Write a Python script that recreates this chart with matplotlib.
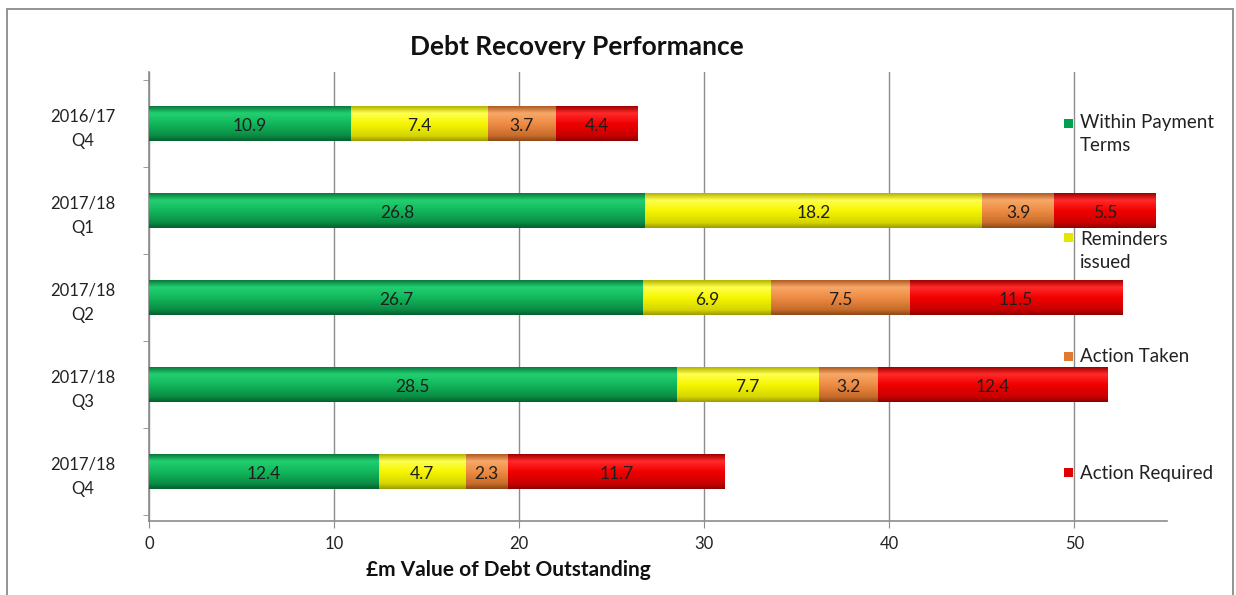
import numpy as np
import matplotlib
matplotlib.use('Agg')
import matplotlib.pyplot as plt
from matplotlib.colors import LinearSegmentedColormap
from matplotlib.patches import Rectangle

plt.rcParams['font.family'] = ['Lato', 'DejaVu Sans']

# data (£m)
periods = ['2016/17\nQ4', '2017/18\nQ1', '2017/18\nQ2', '2017/18\nQ3', '2017/18\nQ4']
within_terms = [10.9, 26.8, 26.7, 28.5, 12.4]
reminders = [7.4, 18.2, 6.9, 7.7, 4.7]
action_taken = [3.7, 3.9, 7.5, 3.2, 2.3]
action_required = [4.4, 5.5, 11.5, 12.4, 11.7]
series_names = ['Within Payment\nTerms', 'Reminders\nissued', 'Action Taken', 'Action Required']

# Excel-ish shaded fills: top edge, highlight, middle, lower, bottom edge
shades = [
    ['#0b7a3c', '#22d070', '#12b85c', '#0a8c44', '#06602e'],
    ['#b4b400', '#ffff50', '#f6f600', '#d6d600', '#9c9c00'],
    ['#b05c22', '#f8a868', '#ee8c44', '#c86c2a', '#8e4818'],
    ['#a00000', '#ff2a2a', '#f20000', '#c80000', '#8e0000'],
]
legend_cols = ['#00a050', '#e6e600', '#e07a30', '#e00000']

W, H = 1236, 595
fig = plt.figure(figsize=(W / 100, H / 100), dpi=100)
ax = fig.add_axes([149 / W, 1 - 521 / H, (1167 - 149) / W, (521 - 72) / H])

y = np.arange(len(periods))
values = [within_terms, reminders, action_taken, action_required]
left = np.zeros(len(periods))
grad = np.linspace(0, 1, 80).reshape(-1, 1)

for vals, sh in zip(values, shades):
    bars = ax.barh(y, vals, left=left, height=0.4, color=sh[2], zorder=2)
    cmap = LinearSegmentedColormap.from_list('s', list(zip([0, 0.2, 0.5, 0.85, 1], sh)))
    for rect, v in zip(bars.patches, vals):
        x0, y0 = rect.get_x(), rect.get_y()
        w, h = rect.get_width(), rect.get_height()
        ax.imshow(grad, cmap=cmap, extent=(x0, x0 + w, y0 + h, y0),
                  aspect='auto', interpolation='bilinear', zorder=3)
        ax.text(x0 + w / 2, y0 + h / 2 + 0.03, f'{v:.1f}', ha='center', va='center',
                fontsize=12.5, color='#1e1e1e', zorder=4)
    left = left + np.array(vals)

ax.set_xlim(0, 55)
ax.set_ylim(4.57, -0.59)
ax.set_xticks(range(0, 51, 10))
ax.set_yticks(y)
ax.set_yticklabels(periods, multialignment='center', linespacing=1.6)
ax.set_yticks(np.arange(-0.5, 4.6, 1), minor=True)
ax.tick_params(axis='y', which='major', length=0, pad=24, labelsize=12, labelcolor='#222222')
ax.tick_params(axis='y', which='minor', length=4, color='#8c8c8c', direction='out')
ax.tick_params(axis='x', length=5, color='#8c8c8c', labelsize=12, labelcolor='#222222', pad=6)
ax.grid(axis='x', color='#8c8c8c', linewidth=1, zorder=0)
ax.set_axisbelow(True)
for s in ['top', 'right']:
    ax.spines[s].set_visible(False)
for s in ['left', 'bottom']:
    ax.spines[s].set_color('#8c8c8c')
    ax.spines[s].set_linewidth(1.2)

fig.text(577 / W, 1 - 47 / H, 'Debt Recovery Performance', ha='center', va='center',
         fontsize=19, fontweight='bold', color='#111111')
fig.text(508 / W, 1 - 570 / H, '£m Value of Debt Outstanding', ha='center', va='center',
         fontsize=15, fontweight='bold', color='#111111')

# legend laid out like the Excel one, down the right side
legend_y = [134, 251, 356, 473]
marker_y = [123, 237, 356, 472]
for name, col, ty, my in zip(series_names, legend_cols, legend_y, marker_y):
    fig.add_artist(Rectangle(((1064) / W, 1 - (my + 4.5) / H), 9 / W, 9 / H,
                             transform=fig.transFigure, facecolor=col, edgecolor='none'))
    fig.text(1080 / W, 1 - ty / H, name, ha='left', va='center', fontsize=13.5,
             color='#222222', linespacing=1.45)

# outer chart frame
fig.add_artist(Rectangle((7 / W, -0.05), (1233 - 7) / W, 1 - 9 / H + 0.05,
                         transform=fig.transFigure, fill=False, edgecolor='#8a8a8a',
                         linewidth=1.3))

plt.savefig('out.png', dpi=100)
